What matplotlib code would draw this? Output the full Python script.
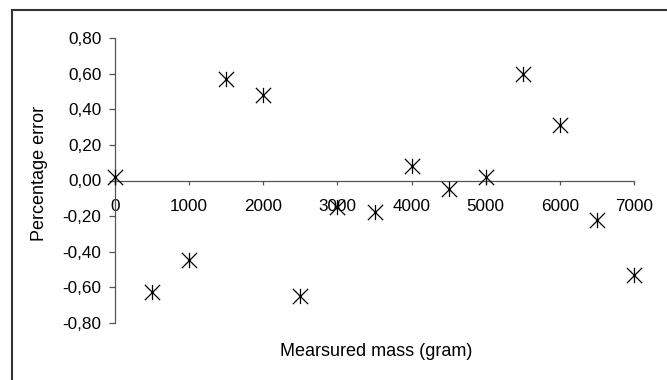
import matplotlib
matplotlib.use("Agg")
import matplotlib.pyplot as plt
from matplotlib.path import Path
from matplotlib.patches import Rectangle

plt.rcParams['font.family'] = ['Liberation Sans', 'DejaVu Sans']

# data
mass = [0, 500, 1000, 1500, 2000, 2500, 3000, 3500, 4000, 4500, 5000, 5500, 6000, 6500, 7000]
error = [0.02, -0.63, -0.45, 0.57, 0.48, -0.65, -0.15, -0.18, 0.08, -0.05, 0.02, 0.60, 0.31, -0.22, -0.53]

xticks = [0, 1000, 2000, 3000, 4000, 5000, 6000, 7000]
yticks = [-0.8, -0.6, -0.4, -0.2, 0.0, 0.2, 0.4, 0.6, 0.8]

# asterisk marker: X with a vertical bar
star = Path([(-1, -1), (1, 1), (-1, 1), (1, -1), (0, -1), (0, 1)],
            [Path.MOVETO, Path.LINETO, Path.MOVETO, Path.LINETO, Path.MOVETO, Path.LINETO])

fig = plt.figure(figsize=(6.67, 3.8), dpi=100)
ax = fig.add_axes([115 / 667, 1 - 322.7 / 380, (634 - 115) / 667, (322.7 - 38.3) / 380])

ax.plot(mass, error, linestyle='none', marker=star, markersize=11,
        markeredgewidth=0.9, color='black', clip_on=False, zorder=5)

ax.set_xlim(0, 7000)
ax.set_ylim(-0.8, 0.8)
ax.set_xticks(xticks)
ax.set_yticks(yticks)
ax.set_yticklabels([f"{v:.2f}".replace('.', ',').replace('-0,00', '0,00') for v in yticks])

for s in ['top', 'right']:
    ax.spines[s].set_visible(False)
ax.spines['bottom'].set_position(('data', 0))
for s in ['left', 'bottom']:
    ax.spines[s].set_color('#555555')
    ax.spines[s].set_linewidth(0.9)
ax.tick_params(direction='out', width=0.9, color='#555555', labelsize=12.3)
ax.tick_params(axis='y', length=4.3, pad=5.5)
ax.tick_params(axis='x', length=3, pad=10)

fig.text(40 / 667, 1 - 173 / 380, 'Percentage error', rotation=90,
         ha='center', va='center', fontsize=13)
fig.text(376 / 667, 1 - 352 / 380, 'Mearsured mass (gram)',
         ha='center', va='center', fontsize=13)

# outer chart border, running off the right and bottom edges
fig.patches.append(Rectangle((12 / 667, -0.05), 1.0, 1 - 10 / 380 + 0.05,
                             transform=fig.transFigure, fill=False,
                             edgecolor='#333333', linewidth=1.5))

fig.savefig('out.png', dpi=100)
